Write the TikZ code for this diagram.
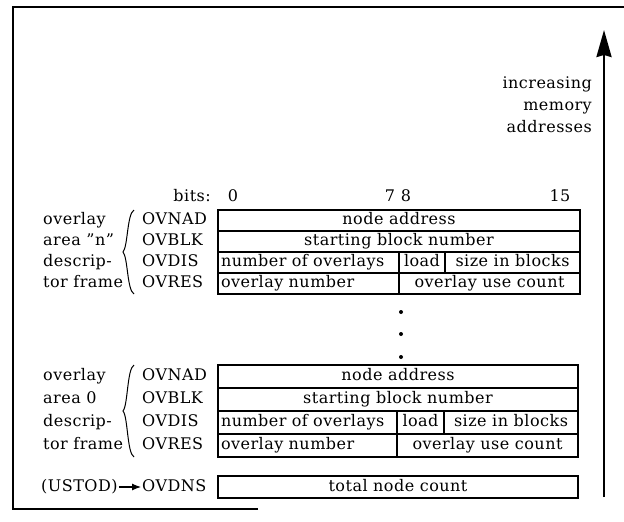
\documentclass[tikz,border=0pt]{standalone}
\usepackage{fontspec}
\setmainfont{DejaVu Serif}[LetterSpace=3]
\usetikzlibrary{arrows.meta}

\begin{document}
\begin{tikzpicture}[
  x=1pt,y=-1pt,
  font=\fontsize{16}{19}\selectfont,
  cell/.style={draw,line width=1.1pt,anchor=north west,inner xsep=3pt,inner ysep=0pt,outer sep=0pt,text height=12pt,text depth=4pt},
  lcell/.style={cell,align=left},
  lab/.style={anchor=west,inner sep=1pt,text height=12pt,text depth=4pt},
  brc/.style={line width=1pt},
  dot/.style={circle,fill,inner sep=0pt,minimum size=4pt},
  arr/.style={-{Latex[length=9pt,width=7pt]},line width=1.1pt}
]
\useasboundingbox (0,0) rectangle (624,522);
\draw[line width=2.2pt] (258,509) -- (13,509) -- (13,7) -- (624,7);
% bit numbers
\node[lab,anchor=east] (bits) at (212,197) {bits:};
\node[lab,anchor=center] (b0) at (233,197) {0};
\node[lab,anchor=center] (b7) at (390,197) {7};
\node[lab,anchor=center] (b8) at (406,197) {8};
\node[lab,anchor=center] (b15) at (560,197) {15};
% two descriptor frames
\foreach \fr/\ty/\rh/\xr/\xs/\xl/\area in {n/210/21/580/399/445/{\symbol{34}n\symbol{34}},z/365/23/578/397/444/0}{
  \pgfmathsetmacro\wa{\xr-218}
  \pgfmathsetmacro\tw{\xs-224}
  \pgfmathsetmacro\wl{\xl-\xs}
  \pgfmathsetmacro\ws{\xr-\xl}
  \pgfmathsetmacro\wu{\xr-\xs}
  \node[cell,minimum width=\wa pt,minimum height=\rh pt] (\fr-nad) at (218,\ty) {node address};
  \node[cell,minimum width=\wa pt,minimum height=\rh pt] (\fr-blk) at (\fr-nad.south west) {starting block number};
  \node[lcell,text width=\tw pt,minimum height=\rh pt] (\fr-num) at (\fr-blk.south west) {number of overlays};
  \node[cell,minimum width=\wl pt,minimum height=\rh pt] (\fr-load) at (\fr-num.north east) {load};
  \node[cell,minimum width=\ws pt,minimum height=\rh pt] (\fr-size) at (\fr-load.north east) {size in blocks};
  \node[lcell,text width=\tw pt,minimum height=\rh pt] (\fr-ovn) at (\fr-num.south west) {overlay number};
  \node[cell,minimum width=\wu pt,minimum height=\rh pt] (\fr-use) at (\fr-ovn.north east) {overlay use count};
  \foreach \txt/\reg [count=\i] in {overlay/OVNAD,area \area/OVBLK,descrip-/OVDIS,tor frame/OVRES}{
    \pgfmathsetmacro\yc{\ty+\rh*(\i-0.5)}
    \node[lab] (\fr-t\i) at (42,\yc) {\txt};
    \node[lab] (\fr-r\i) at (141,\yc) {\reg};
  }
  \draw[brc] (134,\ty) .. controls (127,\ty+4) and (128,\ty+2*\rh-6) .. (123,\ty+2*\rh)
    .. controls (128,\ty+2*\rh+6) and (127,\ty+4*\rh-4) .. (134,\ty+4*\rh);
}
\foreach \y [count=\k] in {312,334,357}
  \node[dot] (dot\k) at (401,\y) {};
% node count word
\node[cell,minimum width=360pt,minimum height=22pt] (tot) at (218,476) {total node count};
\node[lab] (ustod) at (40,487) {(USTOD)};
\node[lab] (ovdns) at (141,487) {OVDNS};
\draw[arr] (ustod) -- (ovdns);
% memory direction
\node[align=right,anchor=east,inner sep=0pt,font=\fontsize{16}{22}\selectfont] (mem) at (592,105) {increasing\\memory\\addresses};
\coordinate (lo) at (604,497);
\coordinate (hi) at (604,30);
\draw[line width=2.4pt,-{Stealth[length=27pt,width=15pt,inset=2pt]}] (lo) -- (hi);
\end{tikzpicture}
\end{document}
